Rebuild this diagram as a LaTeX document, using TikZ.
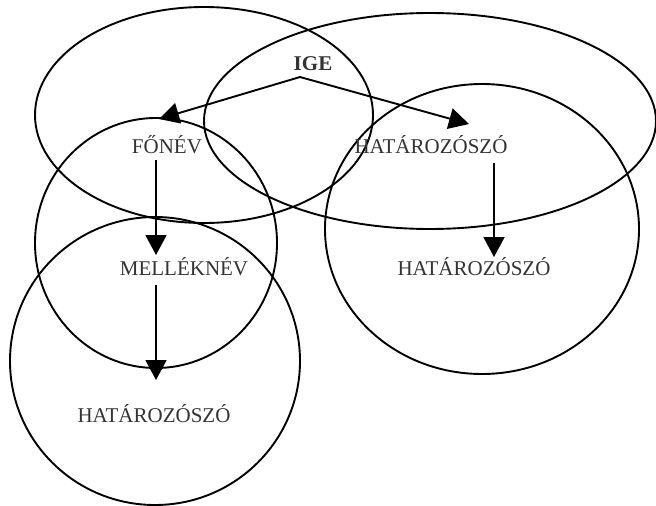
\documentclass[tikz,border=0pt]{standalone}
\usepackage{fontspec}
\setmainfont{Liberation Serif}
\usetikzlibrary{arrows.meta}

\begin{document}
\begin{tikzpicture}[x=1pt, y=-1pt,
    word/.style={anchor=base, inner sep=0pt, text=black!80, font=\fontsize{21}{24}\selectfont},
    ring/.style={line width=1.9pt},
    link/.style={line width=1.9pt, -{Triangle[length=20pt, width=21pt]}}]
    \useasboundingbox (0,0) rectangle (656,506);

    % Overlapping sets
    \draw[ring] (204,115) ellipse [x radius=169, y radius=108];
    \draw[ring] (430,121) ellipse [x radius=226, y radius=108];
    \draw[ring] (156,243) ellipse [x radius=121, y radius=125];
    \draw[ring] (155,361) ellipse [x radius=145, y radius=144];
    \draw[ring] (482,229) ellipse [x radius=157, y radius=145];

    % Words
    \node[word, font=\fontsize{21}{24}\selectfont\bfseries] (ige) at (313,70) {IGE};
    \node[word] (fonev) at (167,153) {FŐNÉV};
    \node[word] (hatfent) at (431,153) {HATÁROZÓSZÓ};
    \node[word] (mellek) at (184,275) {MELLÉKNÉV};
    \node[word] (hatjobb) at (474,275) {HATÁROZÓSZÓ};
    \node[word] (hatlent) at (154,422) {HATÁROZÓSZÓ};

    % Arrows
    \coordinate (fork) at ([shift={(-13,7)}]ige.base);
    \draw[link] (fork) -- ([shift={(-8,-34)}]fonev.base);
    \draw[link] (fork) -- ([shift={(38,-29)}]hatfent.base);
    \draw[link] ([shift={(-11,7)}]fonev.base) -- ([shift={(-28,-20)}]mellek.base);
    \draw[link] ([shift={(-28,10)}]mellek.base) -- ([shift={(2,-42)}]hatlent.base);
    \draw[link] ([shift={(63,10)}]hatfent.base) -- ([shift={(20,-18)}]hatjobb.base);
\end{tikzpicture}
\end{document}
